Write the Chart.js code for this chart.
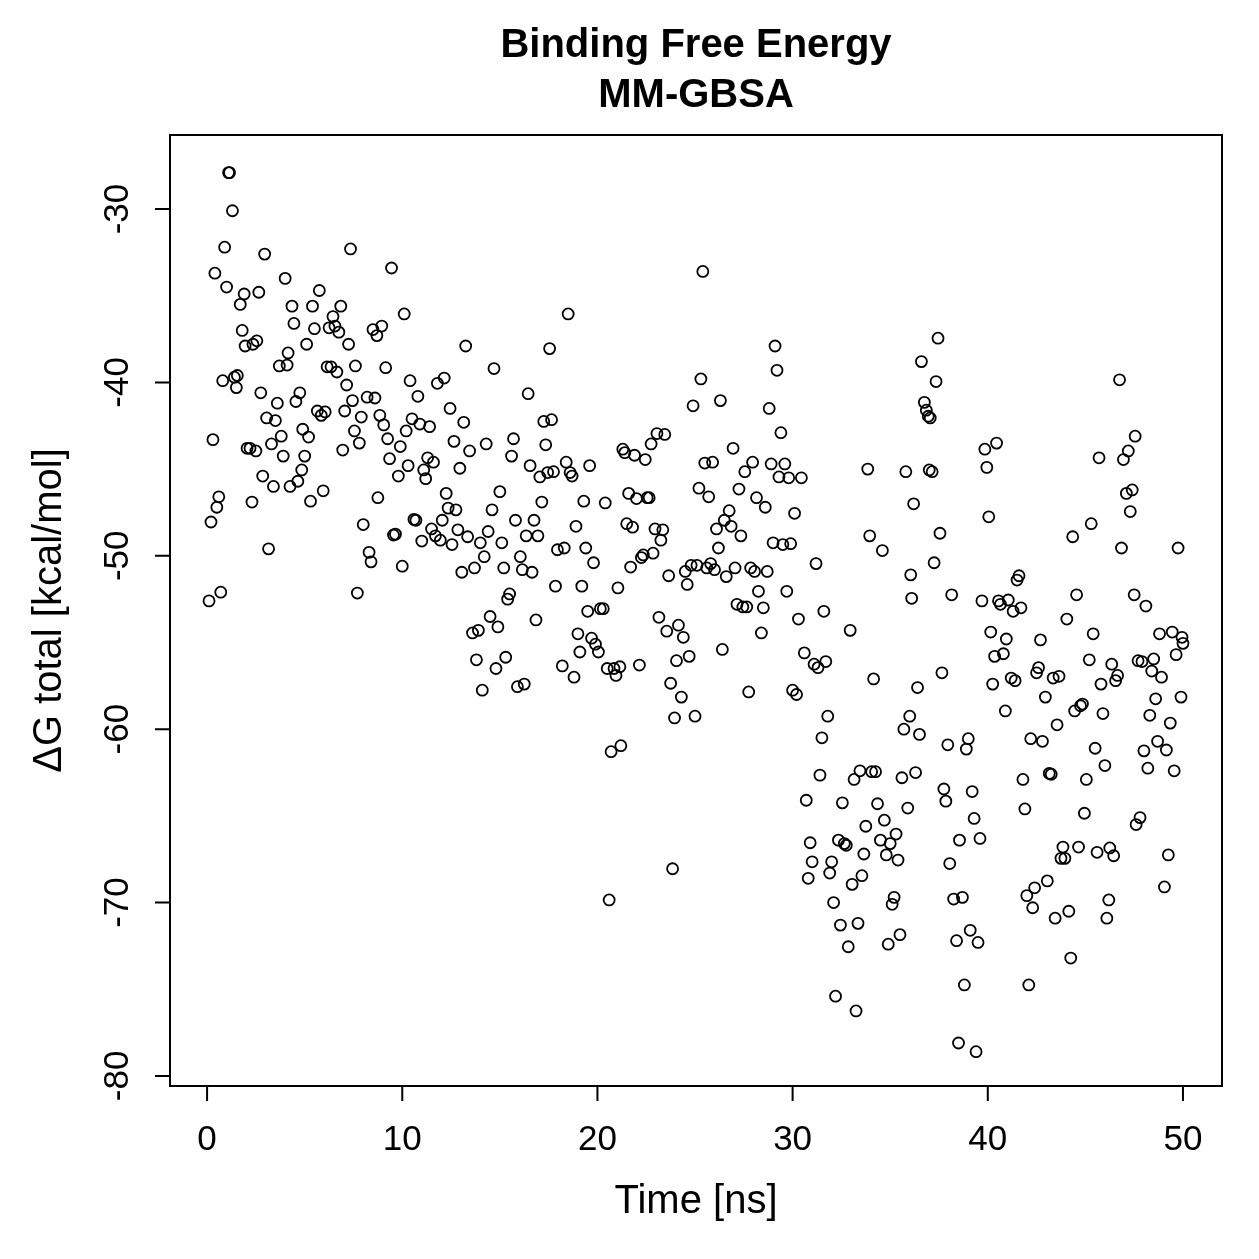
<!DOCTYPE html>
<html>
<head>
<meta charset="utf-8">
<script src="https://cdn.jsdelivr.net/npm/chart.js@4.4.1/dist/chart.umd.min.js"></script>
<style>
  html, body { margin: 0; padding: 0; background: #fff; }
  #wrap { width: 1259px; height: 1259px; }
</style>
</head>
<body>
<div id="wrap"><canvas id="c" width="1259" height="1259"></canvas></div>
<script>
const titleLines = ['Binding Free Energy', 'MM-GBSA'];
const xLabel = 'Time [ns]';
const yLabel = '\u0394G total [kcal/mol]';
const xTicks = [0, 10, 20, 30, 40, 50];
const yTicks = [-30, -40, -50, -60, -70, -80];

// time (ns)
const timeNs = [
  0.1, 0.2, 0.3, 0.4, 0.5, 0.6, 0.7, 0.8, 0.9, 1.0, 1.1, 1.15, 1.3, 1.4, 1.5, 1.55, 1.7, 1.8, 1.9, 1.95,
  2.05, 2.2, 2.3, 2.35, 2.5, 2.55, 2.65, 2.75, 2.85, 2.95, 3.05, 3.15, 3.3, 3.4, 3.5, 3.6, 3.7, 3.8, 3.9, 4.0,
  4.1, 4.15, 4.25, 4.35, 4.45, 4.55, 4.65, 4.75, 4.85, 4.9, 5.0, 5.1, 5.2, 5.3, 5.4, 5.5, 5.65, 5.75, 5.85, 5.95,
  6.05, 6.15, 6.25, 6.35, 6.45, 6.55, 6.65, 6.75, 6.85, 6.95, 7.05, 7.15, 7.25, 7.35, 7.45, 7.55, 7.6, 7.7, 7.8, 7.9,
  8.0, 8.2, 8.3, 8.4, 8.5, 8.6, 8.7, 8.75, 8.85, 8.95, 9.05, 9.15, 9.25, 9.35, 9.45, 9.55, 9.65, 9.8, 9.9, 10.0,
  10.1, 10.2, 10.3, 10.4, 10.5, 10.6, 10.7, 10.8, 10.9, 11.0, 11.1, 11.2, 11.3, 11.4, 11.5, 11.6, 11.7, 11.8, 11.95, 12.05,
  12.15, 12.25, 12.35, 12.45, 12.55, 12.65, 12.75, 12.85, 12.95, 13.05, 13.15, 13.25, 13.35, 13.45, 13.6, 13.7, 13.8, 13.9, 14.0, 14.1,
  14.2, 14.3, 14.4, 14.5, 14.6, 14.7, 14.8, 14.9, 15.0, 15.1, 15.2, 15.3, 15.4, 15.5, 15.6, 15.7, 15.8, 15.9, 16.05, 16.15,
  16.25, 16.35, 16.45, 16.55, 16.65, 16.75, 16.85, 16.95, 17.05, 17.15, 17.25, 17.35, 17.45, 17.55, 17.65, 17.75, 17.85, 17.95, 18.2, 18.3,
  18.4, 18.5, 18.6, 18.7, 18.8, 18.9, 19.0, 19.1, 19.2, 19.3, 19.4, 19.5, 19.6, 19.7, 19.8, 19.9, 20.05, 20.15, 20.3, 20.4,
  20.5, 20.6, 20.7, 20.85, 20.95, 21.05, 21.15, 21.2, 21.3, 21.4, 21.5, 21.6, 21.7, 21.8, 21.9, 22.0, 22.15, 22.25, 22.35, 22.45,
  22.55, 22.65, 22.75, 22.85, 22.95, 23.05, 23.15, 23.25, 23.35, 23.45, 23.55, 23.65, 23.75, 23.85, 23.95, 24.05, 24.15, 24.3, 24.4, 24.5,
  24.6, 24.7, 24.8, 24.9, 25.0, 25.1, 25.2, 25.3, 25.4, 25.5, 25.6, 25.7, 25.8, 25.9, 26.0, 26.1, 26.2, 26.3, 26.4, 26.5,
  26.6, 26.75, 26.85, 26.95, 27.05, 27.15, 27.25, 27.35, 27.45, 27.55, 27.65, 27.75, 27.85, 27.95, 28.05, 28.15, 28.25, 28.4, 28.5, 28.6,
  28.7, 28.8, 28.9, 29.0, 29.1, 29.2, 29.3, 29.4, 29.5, 29.6, 29.7, 29.8, 29.9, 30.0, 30.1, 30.2, 30.3, 30.45, 30.6, 30.7,
  30.8, 30.9, 31.0, 31.1, 31.2, 31.3, 31.4, 31.5, 31.6, 31.7, 31.8, 31.9, 32.0, 32.1, 32.2, 32.35, 32.45, 32.55, 32.65, 32.75,
  32.85, 32.95, 33.05, 33.15, 33.25, 33.35, 33.45, 33.55, 33.65, 33.75, 33.85, 33.95, 34.05, 34.15, 34.25, 34.35, 34.5, 34.6, 34.7, 34.8,
  34.9, 35.0, 35.1, 35.2, 35.3, 35.4, 35.5, 35.6, 35.7, 35.8, 35.9, 36.0, 36.05, 36.1, 36.2, 36.3, 36.4, 36.5, 36.6, 36.75,
  36.85, 36.95, 37.0, 37.05, 37.15, 37.25, 37.35, 37.45, 37.55, 37.65, 37.75, 37.85, 37.95, 38.05, 38.15, 38.25, 38.4, 38.5, 38.55, 38.7,
  38.8, 38.9, 39.0, 39.1, 39.2, 39.3, 39.4, 39.5, 39.6, 39.7, 39.85, 39.95, 40.05, 40.15, 40.25, 40.35, 40.45, 40.55, 40.65, 40.8,
  40.9, 40.95, 41.05, 41.2, 41.3, 41.4, 41.5, 41.6, 41.7, 41.8, 41.9, 42.0, 42.1, 42.2, 42.3, 42.4, 42.5, 42.6, 42.7, 42.8,
  42.95, 43.05, 43.15, 43.25, 43.35, 43.45, 43.55, 43.65, 43.75, 43.85, 43.95, 44.05, 44.15, 44.25, 44.35, 44.45, 44.55, 44.65, 44.75, 44.85,
  44.95, 45.05, 45.2, 45.3, 45.4, 45.5, 45.6, 45.7, 45.8, 45.9, 46.0, 46.1, 46.2, 46.25, 46.35, 46.45, 46.55, 46.65, 46.75, 46.85,
  46.95, 47.1, 47.2, 47.3, 47.4, 47.5, 47.55, 47.6, 47.7, 47.8, 47.9, 48.0, 48.1, 48.2, 48.3, 48.4, 48.5, 48.6, 48.7, 48.8,
  48.9, 49.05, 49.15, 49.25, 49.35, 49.45, 49.55, 49.65, 49.75, 49.9, 49.95, 50.0
];

// binding free energy, kcal/mol
const deltaG = [
  -52.6, -48.05, -43.3, -33.7, -47.2, -46.6, -52.1, -39.9, -32.2, -34.5, -27.9, -27.9, -30.1, -39.7, -40.3, -39.6, -35.5, -37.0, -34.9, -37.9,
  -43.8, -43.8, -46.9, -37.8, -43.95, -37.6, -34.8, -40.6, -45.4, -32.6, -42.05, -49.6, -43.55, -46.0, -42.2, -41.2, -39.05, -43.1, -44.25, -34.0,
  -39.0, -38.3, -46.0, -35.6, -36.6, -41.1, -45.7, -40.6, -45.05, -42.7, -44.25, -37.8, -43.15, -46.85, -35.6, -36.9, -41.65, -34.7, -41.9, -46.25,
  -41.7, -39.1, -36.85, -39.1, -36.2, -36.75, -39.4, -37.1, -35.6, -43.9, -41.65, -40.15, -37.8, -32.3, -41.05, -42.8, -39.05, -52.15, -43.5, -42.0,
  -48.2, -40.85, -49.8, -50.35, -36.95, -40.9, -37.3, -46.65, -41.9, -36.75, -42.45, -39.15, -43.25, -44.4, -33.4, -48.8, -48.75, -45.4, -43.7, -50.6,
  -36.05, -42.8, -44.8, -39.9, -42.1, -47.9, -47.95, -40.8, -42.4, -49.15, -45.05, -45.55, -44.35, -42.55, -48.45, -44.6, -48.85, -40.05, -49.1, -47.95,
  -39.75, -46.4, -47.25, -41.5, -49.35, -43.4, -47.35, -48.5, -44.95, -50.95, -42.3, -37.9, -48.9, -43.95, -54.45, -50.7, -56.0, -54.3, -49.25, -57.75,
  -50.05, -43.55, -48.6, -53.5, -47.35, -39.2, -56.5, -54.1, -46.3, -49.25, -50.7, -55.85, -52.5, -52.2, -44.25, -43.25, -47.95, -57.55, -50.05, -50.8,
  -57.4, -48.85, -40.65, -44.8, -50.95, -47.95, -53.7, -48.85, -45.45, -46.9, -42.25, -43.6, -45.2, -38.05, -42.15, -45.15, -51.75, -49.65, -56.35, -49.55,
  -44.6, -36.05, -45.2, -45.4, -57.0, -48.3, -54.5, -55.55, -51.75, -46.85, -49.55, -53.2, -44.8, -54.75, -50.4, -55.1, -55.55, -53.05, -53.05, -46.95,
  -56.5, -69.85, -61.3, -56.5, -56.9, -51.85, -56.4, -60.95, -43.85, -44.05, -48.15, -46.4, -50.65, -48.35, -44.2, -46.7, -56.3, -50.1, -49.95, -44.45,
  -46.65, -46.65, -43.55, -49.85, -48.45, -42.95, -53.55, -49.1, -48.5, -43.0, -54.35, -51.15, -57.35, -68.05, -59.35, -56.05, -54.0, -58.15, -54.7, -50.9,
  -51.65, -55.8, -50.55, -41.35, -59.25, -50.55, -46.1, -39.8, -33.6, -44.65, -50.7, -46.6, -50.45, -44.6, -50.8, -48.45, -49.55, -41.05, -55.4, -47.95,
  -51.2, -47.4, -48.3, -43.8, -50.7, -52.8, -46.15, -48.85, -52.95, -45.15, -52.95, -57.85, -50.7, -44.6, -50.9, -46.65, -52.05, -54.45, -53.0, -47.2,
  -50.9, -41.5, -44.7, -49.25, -37.9, -39.3, -45.45, -42.9, -49.35, -44.7, -52.05, -45.5, -49.3, -57.75, -47.55, -58.0, -53.65, -45.5, -55.6, -64.1,
  -68.6, -66.55, -67.65, -56.25, -50.45, -56.45, -62.65, -60.5, -53.2, -56.1, -59.25, -68.3, -67.65, -70.0, -75.4, -66.4, -71.3, -64.25, -66.6, -66.7,
  -72.55, -54.3, -68.95, -62.9, -76.25, -71.2, -62.4, -68.45, -67.2, -65.6, -45.0, -48.85, -62.45, -57.1, -62.45, -64.3, -66.4, -49.7, -65.25, -67.25,
  -72.4, -66.6, -70.1, -69.7, -66.05, -67.55, -71.85, -62.8, -60.0, -45.15, -64.55, -59.25, -51.1, -52.45, -47.0, -62.5, -57.6, -60.3, -38.8, -41.15,
  -41.6, -41.95, -45.05, -42.05, -45.15, -50.4, -39.95, -37.45, -48.7, -56.75, -63.45, -64.15, -60.9, -67.75, -52.25, -69.8, -72.2, -78.1, -66.4, -69.7,
  -74.75, -61.15, -60.55, -71.6, -63.6, -65.15, -78.6, -72.3, -66.3, -52.6, -43.85, -44.9, -47.75, -54.4, -57.4, -55.8, -43.5, -52.6, -52.8, -55.65,
  -58.95, -54.8, -52.55, -57.05, -53.2, -57.2, -51.4, -51.15, -53.0, -62.9, -64.6, -69.6, -74.75, -60.55, -70.3, -69.15, -56.75, -56.45, -54.85, -60.7,
  -58.15, -68.75, -62.55, -62.6, -57.05, -70.9, -59.75, -56.95, -67.45, -66.8, -67.45, -53.65, -70.5, -73.2, -48.9, -58.95, -52.25, -66.8, -58.65, -58.55,
  -64.85, -62.9, -56.0, -48.15, -54.5, -61.1, -67.1, -44.35, -57.4, -59.1, -62.1, -70.9, -69.85, -66.85, -56.25, -67.3, -57.2, -56.9, -39.85, -49.55,
  -44.45, -46.4, -43.95, -47.45, -46.2, -52.25, -43.1, -65.5, -56.05, -65.1, -56.1, -61.25, -52.9, -62.25, -59.2, -56.65, -55.95, -58.25, -60.7, -54.5,
  -57.0, -69.1, -61.2, -67.25, -59.65, -54.4, -62.4, -55.7, -49.55, -58.15, -54.7, -55.05
];

const FONT = '"Liberation Sans", Arial, Helvetica, sans-serif';

// R-style box, outward ticks, rotated y labels, titles
const rAxes = {
  id: 'rAxes',
  afterDraw(chart) {
    const { ctx, chartArea: a, scales } = chart;
    const xs = scales.x, ys = scales.y;
    ctx.save();
    ctx.strokeStyle = '#000';
    ctx.fillStyle = '#000';
    ctx.lineWidth = 2;
    ctx.strokeRect(a.left, a.top, a.right - a.left, a.bottom - a.top);

    const tl = 15;
    ctx.beginPath();
    xTicks.forEach(v => {
      const px = xs.getPixelForValue(v);
      ctx.moveTo(px, a.bottom);
      ctx.lineTo(px, a.bottom + tl);
    });
    yTicks.forEach(v => {
      const py = ys.getPixelForValue(v);
      ctx.moveTo(a.left, py);
      ctx.lineTo(a.left - tl, py);
    });
    ctx.stroke();

    ctx.font = '35px ' + FONT;
    ctx.textAlign = 'center';
    ctx.textBaseline = 'middle';
    xTicks.forEach(v => ctx.fillText(String(v), xs.getPixelForValue(v), a.bottom + 54));
    yTicks.forEach(v => {
      ctx.save();
      ctx.translate(a.left - 52, ys.getPixelForValue(v));
      ctx.rotate(-Math.PI / 2);
      ctx.fillText(String(v), 0, 0);
      ctx.restore();
    });

    const cx = (a.left + a.right) / 2;
    const cy = (a.top + a.bottom) / 2;
    ctx.font = '40px ' + FONT;
    ctx.fillText(xLabel, cx, a.bottom + 116);
    ctx.save();
    ctx.translate(a.left - 120, cy);
    ctx.rotate(-Math.PI / 2);
    ctx.fillText(yLabel, 0, 0);
    ctx.restore();

    ctx.font = 'bold 40px ' + FONT;
    ctx.fillText(titleLines[0], cx, 46);
    ctx.fillText(titleLines[1], cx, 96);
    ctx.restore();
  }
};

new Chart(document.getElementById('c'), {
  type: 'scatter',
  data: {
    datasets: [{
      data: timeNs.map((t, i) => ({ x: t, y: deltaG[i] })),
      backgroundColor: 'rgba(0,0,0,0)',
      borderColor: '#000',
      borderWidth: 1.8,
      pointRadius: 5.5,
      pointHoverRadius: 5.5
    }]
  },
  options: {
    responsive: false,
    animation: false,
    events: [],
    layout: { padding: { left: 170, top: 135, right: 37, bottom: 173 } },
    plugins: { legend: { display: false }, tooltip: { enabled: false } },
    scales: {
      x: { type: 'linear', min: -1.9, max: 52, display: false },
      y: { type: 'linear', min: -80.58, max: -25.73, display: false }
    }
  },
  plugins: [rAxes]
});
</script>
</body>
</html>
